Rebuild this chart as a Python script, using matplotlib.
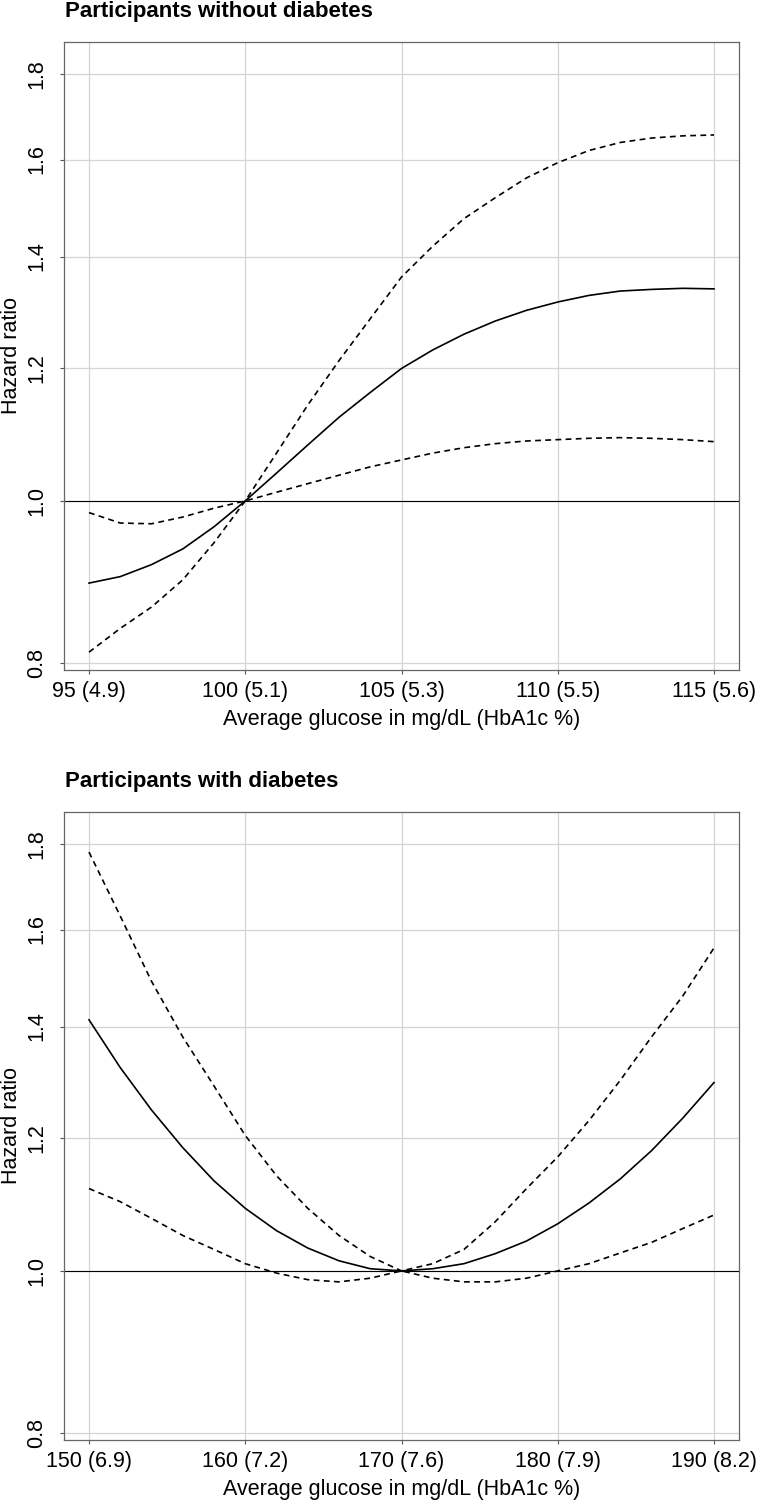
import numpy as np
import matplotlib
matplotlib.use("Agg")
import matplotlib.pyplot as plt
from matplotlib.ticker import FixedLocator, FixedFormatter, NullLocator

plt.rcParams["font.family"] = ["Liberation Sans", "DejaVu Sans"]

# ---------------------------------------------------------
# data: participants without diabetes
# ---------------------------------------------------------
glu_nd = [95, 96, 97, 98, 99, 100, 101, 102, 103, 104, 105,
          106, 107, 108, 109, 110, 111, 112, 113, 114, 115]
hr_nd = [0.893, 0.901, 0.916, 0.936, 0.965, 1.000, 1.039, 1.080, 1.122, 1.161, 1.200,
         1.231, 1.258, 1.281, 1.300, 1.315, 1.327, 1.335, 1.338, 1.340, 1.339]
ci_a_nd = [0.984, 0.970, 0.969, 0.978, 0.990, 1.000, 1.012, 1.024, 1.036, 1.048, 1.058,
           1.068, 1.076, 1.082, 1.086, 1.088, 1.090, 1.091, 1.090, 1.088, 1.085]
ci_b_nd = [0.812, 0.839, 0.864, 0.897, 0.944, 1.000, 1.068, 1.141, 1.213, 1.285, 1.361,
           1.420, 1.475, 1.518, 1.560, 1.593, 1.620, 1.638, 1.648, 1.653, 1.655]
xt_nd = [95, 100, 105, 110, 115]
xl_nd = ["95 (4.9)", "100 (5.1)", "105 (5.3)", "110 (5.5)", "115 (5.6)"]

# ---------------------------------------------------------
# data: participants with diabetes
# ---------------------------------------------------------
glu_d = [150, 152, 154, 156, 158, 160, 162, 164, 166, 168, 170,
         172, 174, 176, 178, 180, 182, 184, 186, 188, 190]
hr_d = [1.413, 1.323, 1.248, 1.185, 1.132, 1.090, 1.057, 1.032, 1.014, 1.003, 1.000,
        1.003, 1.010, 1.024, 1.042, 1.067, 1.098, 1.135, 1.180, 1.234, 1.296]
ci_a_d = [1.780, 1.630, 1.490, 1.380, 1.290, 1.205, 1.140, 1.090, 1.050, 1.020, 1.000,
          1.010, 1.030, 1.070, 1.120, 1.170, 1.230, 1.300, 1.380, 1.460, 1.560]
ci_b_d = [1.120, 1.100, 1.075, 1.050, 1.030, 1.010, 0.997, 0.988, 0.985, 0.990, 1.000,
          0.990, 0.985, 0.985, 0.990, 1.000, 1.010, 1.025, 1.040, 1.060, 1.080]
xt_d = [150, 160, 170, 180, 190]
xl_d = ["150 (6.9)", "160 (7.2)", "170 (7.6)", "180 (7.9)", "190 (8.2)"]

y_ticks = [0.8, 1.0, 1.2, 1.4, 1.6, 1.8]
y_lim = (0.7923, 1.881)

W, H = 760, 1506
FS = 15.5
fig = plt.figure(figsize=(W / 100, H / 100), dpi=100)


def panel(top_px, title, x, hr, ci_a, ci_b, xt, xl):
    left, right, bottom = 64, 739, top_px + 628
    ax = fig.add_axes([left / W, 1 - bottom / H, (right - left) / W, 628 / H])
    ax.set_yscale("log")
    ax.yaxis.set_major_locator(FixedLocator(y_ticks))
    ax.yaxis.set_major_formatter(FixedFormatter([f"{v:.1f}" for v in y_ticks]))
    ax.yaxis.set_minor_locator(NullLocator())
    ax.set_ylim(*y_lim)
    span = xt[-1] - xt[0]
    ax.set_xlim(xt[0] - 0.04 * span, xt[-1] + 0.04 * span)
    ax.set_xticks(xt)
    ax.set_xticklabels(xl)

    ax.grid(True, color="#d4d4d4", lw=0.9)
    ax.set_axisbelow(True)
    ax.axhline(1.0, color="black", lw=0.8)

    ax.plot(x, hr, color="black", lw=1.2)
    ax.plot(x, ci_a, color="black", lw=1.2, dashes=[3.5, 2.6])
    ax.plot(x, ci_b, color="black", lw=1.2, dashes=[3.5, 2.6])

    for s in ax.spines.values():
        s.set_color("#666666")
        s.set_linewidth(0.9)
    ax.tick_params(axis="both", length=3, width=0.8, color="#555555",
                   labelsize=FS, labelcolor="black")
    ax.tick_params(axis="x", pad=5)
    ax.tick_params(axis="y", pad=9)
    for lab in ax.get_yticklabels():
        lab.set_rotation(90)
        lab.set_va("center")

    ax.set_xlabel("Average glucose in mg/dL (HbA1c %)", fontsize=FS, labelpad=5)
    ax.set_ylabel("Hazard ratio", fontsize=FS, labelpad=3)
    fig.text(65 / W, 1 - (top_px - 30) / H, title, fontsize=16, fontweight="bold",
             ha="left", va="center")
    return ax


panel(42, "Participants without diabetes", glu_nd, hr_nd, ci_a_nd, ci_b_nd, xt_nd, xl_nd)
panel(812, "Participants with diabetes", glu_d, hr_d, ci_a_d, ci_b_d, xt_d, xl_d)

fig.savefig("out.png", dpi=100)
